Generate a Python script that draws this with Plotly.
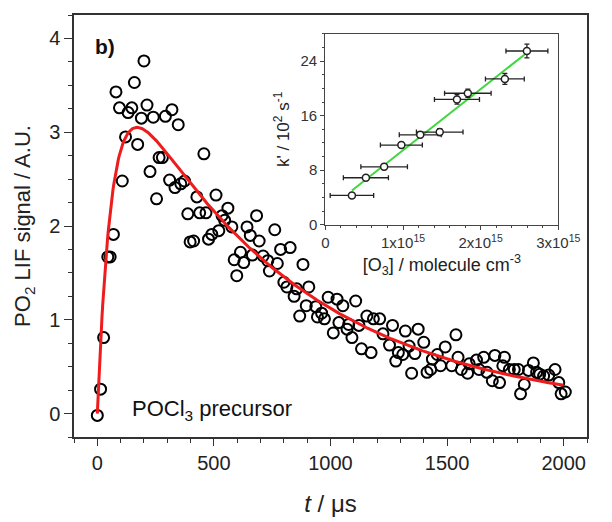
import numpy as np
import plotly.graph_objects as go

# ---- main decay trace (t in microseconds, PO2 LIF signal) ----
t_us = [0, 14, 27, 45, 55, 69, 80, 95, 107, 121, 132, 148, 159, 173, 189, 200, 213, 226, 240, 254,
        265, 279, 292, 310, 320, 333, 347, 358, 374, 388, 398, 413, 427, 439, 457, 466, 477, 491, 509, 521,
        535, 546, 560, 577, 587, 598, 614, 628, 642, 656, 665, 683, 694, 711, 731, 738, 761, 772, 786, 800,
        813, 827, 844, 855, 868, 882, 896, 907, 937, 944, 962, 974, 990, 1012, 1028, 1036, 1053, 1071, 1078, 1092,
        1108, 1122, 1133, 1156, 1174, 1184, 1211, 1225, 1253, 1266, 1280, 1291, 1310, 1321, 1337, 1348, 1362, 1376, 1400, 1414,
        1430, 1437, 1458, 1472, 1492, 1520, 1538, 1547, 1561, 1588, 1595, 1626, 1637, 1657, 1671, 1694, 1705, 1725, 1739, 1746,
        1767, 1788, 1806, 1815, 1831, 1849, 1870, 1884, 1897, 1914, 1936, 1963, 1979, 1989, 2007]
signal = [-0.02, 0.26, 0.81, 1.67, 1.67, 1.91, 3.43, 3.26, 2.48, 2.95, 3.21, 3.26, 3.53, 2.87, 3.15, 3.76, 3.29, 2.58, 3.16, 2.29,
          2.73, 2.73, 3.17, 2.49, 3.24, 2.41, 3.08, 2.45, 2.48, 2.13, 1.83, 1.84, 2.31, 2.14, 2.77, 2.14, 1.86, 1.91, 2.33, 1.95,
          2.11, 2.06, 2.19, 1.99, 1.64, 1.47, 1.72, 1.61, 1.99, 1.90, 1.69, 2.11, 1.84, 1.68, 1.63, 1.52, 1.96, 1.60, 1.75, 1.40,
          1.35, 1.77, 1.25, 1.33, 1.04, 1.59, 1.15, 1.35, 1.14, 1.03, 1.07, 1.01, 1.24, 0.86, 1.22, 0.97, 1.15, 0.90, 0.95, 0.81,
          1.20, 0.94, 0.69, 1.04, 0.65, 1.01, 1.01, 0.85, 0.73, 0.94, 0.56, 0.65, 0.63, 0.88, 0.72, 0.43, 0.64, 0.90, 0.76, 0.44,
          0.47, 0.58, 0.63, 0.51, 0.71, 0.51, 0.84, 0.60, 0.47, 0.43, 0.53, 0.57, 0.47, 0.60, 0.44, 0.35, 0.62, 0.33, 0.51, 0.60,
          0.47, 0.47, 0.47, 0.21, 0.31, 0.46, 0.54, 0.44, 0.42, 0.40, 0.41, 0.47, 0.33, 0.21, 0.23]

# biexponential fit parameters (rise/decay)
fit_A = 4.155
fit_k_rise = 0.016     # 1/us
fit_k_decay = 0.00131  # 1/us

# ---- inset: pseudo-first-order rate vs [O3] ----
o3_conc = [0.342e15, 0.522e15, 0.757e15, 0.979e15, 1.222e15, 1.473e15, 1.695e15, 1.835e15, 2.312e15, 2.596e15]
k_prime = [4.3, 6.9, 8.5, 11.7, 13.2, 13.6, 18.4, 19.3, 21.4, 25.5]
o3_err = [0.28e15, 0.29e15, 0.30e15, 0.27e15, 0.27e15, 0.30e15, 0.29e15, 0.30e15, 0.25e15, 0.27e15]
k_err = [0.3, 0.3, 0.4, 0.4, 0.4, 0.5, 0.7, 0.6, 0.8, 1.0]

FONT = "Arial, Liberation Sans, sans-serif"

t_fit = np.linspace(0, 2000, 600)
s_fit = fit_A * (np.exp(-fit_k_decay * t_fit) - np.exp(-fit_k_rise * t_fit))

slope, intercept = np.polyfit(o3_conc, k_prime, 1)
x_line = np.array([min(o3_conc), max(o3_conc)])
y_line = slope * x_line + intercept

fig = go.Figure()
fig.add_trace(go.Scatter(x=t_us, y=signal, mode="markers",
                         marker=dict(symbol="circle-open", size=11, color="black", line=dict(width=2, color="black")),
                         showlegend=False))
fig.add_trace(go.Scatter(x=t_fit, y=s_fit, mode="lines", line=dict(color="#ee1c1c", width=3), showlegend=False))

fig.add_trace(go.Scatter(x=x_line, y=y_line, mode="lines", line=dict(color="#3fd63f", width=2),
                         xaxis="x2", yaxis="y2", showlegend=False))
fig.add_trace(go.Scatter(x=o3_conc, y=k_prime, mode="markers",
                         marker=dict(symbol="circle", size=7, color="white", line=dict(width=1.5, color="#222")),
                         error_x=dict(type="data", array=o3_err, color="#222", thickness=1.3, width=2.5),
                         error_y=dict(type="data", array=k_err, color="#222", thickness=1.3, width=2.5),
                         xaxis="x2", yaxis="y2", showlegend=False))

axcol = "#333333"
fig.update_layout(
    width=612, height=522,
    margin=dict(l=74, r=3, t=15, b=85),
    paper_bgcolor="white", plot_bgcolor="white",
    font=dict(family=FONT, color="#222"),
    xaxis=dict(range=[-100, 2100], tickvals=[0, 500, 1000, 1500, 2000], showgrid=False, zeroline=False,
               showline=True, linecolor=axcol, linewidth=1.5, mirror=True,
               ticks="outside", ticklen=7, tickwidth=1.3, tickcolor=axcol,
               minor=dict(ticks="outside", dtick=100, ticklen=4, tickwidth=1.2, tickcolor=axcol),
               tickfont=dict(size=20, color="#222"),
               title=dict(text="<i>t</i> / μs", font=dict(size=24, color="#222"), standoff=22)),
    yaxis=dict(range=[-0.25, 4.25], tickvals=[0, 1, 2, 3, 4], showgrid=False, zeroline=False,
               showline=True, linecolor=axcol, linewidth=1.5, mirror=True,
               ticks="outside", ticklen=8, tickwidth=1.3, tickcolor=axcol,
               minor=dict(ticks="outside", dtick=0.25, ticklen=4, tickwidth=1.2, tickcolor=axcol),
               tickfont=dict(size=20, color="#222"),
               title=dict(text="PO<sub>2</sub> LIF signal / A.U.", font=dict(size=22, color="#222"), standoff=12)),
    xaxis2=dict(domain=[0.490, 0.944], anchor="y2", range=[0, 3e15],
                tickvals=[0, 1e15, 2e15, 3e15],
                ticktext=["0", "1x10<sup>15</sup>", "2x10<sup>15</sup>", "3x10<sup>15</sup>"],
                showgrid=False, zeroline=False, showline=True, linecolor="#444", linewidth=1.3, mirror=True,
                ticks="outside", ticklen=4, tickwidth=1, tickcolor="#444",
                minor=dict(ticks="outside", dtick=0.2e15, ticklen=2, tickwidth=1, tickcolor="#444"),
                tickfont=dict(size=15, color="#333"),
                title=dict(text="[O<sub>3</sub>] / molecule cm<sup>-3</sup>", font=dict(size=18, color="#222"), standoff=8)),
    yaxis2=dict(domain=[0.503, 0.955], anchor="x2", range=[0, 28], tickvals=[0, 8, 16, 24],
                showgrid=False, zeroline=False, showline=True, linecolor="#444", linewidth=1.3, mirror=True,
                ticks="outside", ticklen=4, tickwidth=1, tickcolor="#444",
                minor=dict(ticks="outside", dtick=2, ticklen=2, tickwidth=1, tickcolor="#444"),
                tickfont=dict(size=15, color="#333"),
                title=dict(text="k' / 10<sup>2</sup> s<sup>-1</sup>", font=dict(size=17, color="#222"), standoff=6)),
    annotations=[
        dict(text="<b>b)</b>", x=0.038, y=0.925, xref="paper", yref="paper", xanchor="left", yanchor="middle",
             showarrow=False, font=dict(size=21, color="#111")),
        dict(text="POCl<sub>3</sub> precursor", x=0.11, y=0.065, xref="paper", yref="paper",
             xanchor="left", yanchor="middle", showarrow=False, font=dict(size=22, color="#111")),
    ],
)

fig.write_html("out.html")
